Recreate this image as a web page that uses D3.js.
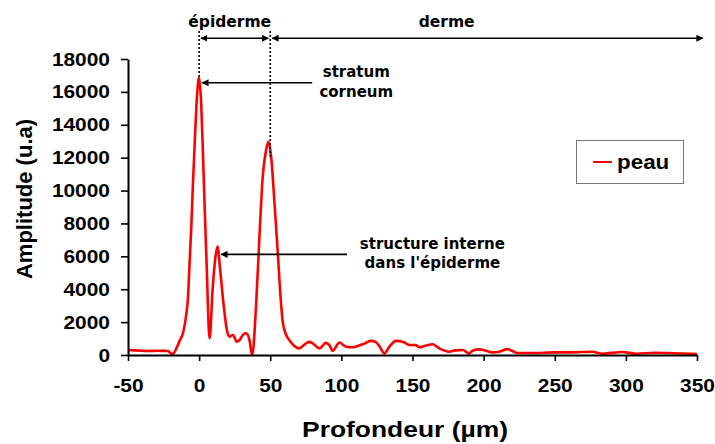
<!DOCTYPE html>
<html>
<head>
<meta charset="utf-8">
<script src="https://cdn.jsdelivr.net/npm/d3@7"></script>
<style>
  body { margin: 0; background: #fff; }
  svg { display: block; }
</style>
</head>
<body>
<svg id="chart" width="715" height="444"></svg>
<script>
// Depth profile of the skin signal (µm) and its amplitude (arbitrary units)
const depth = [
  -50, -45, -40, -35, -30, -25, -22, -20, -18.5, -16, -13.8, -11, -9, -7.9, -6.7, -5.5, -4.4, -3.2, -2, -1,
  -0.3, 0.5, 1.5, 2.7, 3.8, 5.4, 7.3, 9.6, 11.5, 12.9, 14.8, 17.1, 19.5, 21.3, 23.7, 26.5, 28.4, 31, 33.1, 35.4,
  37.3, 40.1, 42.4, 44.7, 47.1, 48.7, 50.6, 53, 55.3, 57.7, 58.8, 61.2, 63.5, 65.8, 68, 70.5, 72.8, 77.5, 79.8, 84.6,
  89.2, 91.5, 93.9, 98.6, 103.3, 108, 112, 115, 120.8, 124, 127, 130.2, 133.7, 138.4, 143.1, 147.8, 152.5, 154.8, 159, 164.1,
  168.8, 175.8, 180, 185.2, 189.9, 192.2, 196.9, 201.6, 206.3, 211, 216.8, 220.3, 223.8, 236.7, 248.4, 260.1, 276.5, 283.5, 297.6, 306.9,
  321, 335, 346.7, 350
];
const amplitude = [
  300, 280, 260, 240, 260, 250, 240, 120, 60, 400, 850, 1450, 2500, 3400, 5600, 7800, 10300, 12700, 15000, 16300,
  16850, 16500, 15200, 12200, 9230, 5170, 1000, 4150, 5980, 6600, 5170, 3140, 1520, 1110, 1220, 810, 910, 1250, 1320, 910,
  0, 3140, 7190, 10840, 12470, 12970, 12060, 9230, 6190, 3000, 2000, 1220, 900, 650, 480, 400, 550, 800, 710, 400,
  740, 600, 250, 760, 500, 470, 560, 650, 860, 800, 500, 100, 500, 860, 810, 610, 600, 470, 560, 650,
  400, 200, 280, 300, 100, 260, 340, 260, 160, 200, 360, 240, 120, 120, 160, 160, 200, 80, 180, 80,
  140, 100, 80, 60
];
const xTicks = [-50, 0, 50, 100, 150, 200, 250, 300, 350];
const yTicks = [0, 2000, 4000, 6000, 8000, 10000, 12000, 14000, 16000, 18000];
const seriesName = "peau";
const xTitle = "Profondeur (µm)";
const yTitle = "Amplitude (u.a)";

// Skin layers marked along the top of the plot (depth range, µm)
const layers = [
  { label: "épiderme", from: 0, to: 50, labelAt: 21.5 },
  { label: "derme", from: 50, to: 354, labelAt: 174 }
];
// Boundaries drawn as dotted lines down to the signal peaks
const boundaries = [0, 50];
// Callouts: arrow from the text towards a peak
const callouts = [
  { lines: ["stratum", "corneum"], tipX: 2.2, tailX: 79.5, level: 16560, textX: 110.5 },
  { lines: ["structure interne", "dans l'épiderme"], tipX: 15.5, tailX: 104, level: 6120, textX: 164 }
];

const svg = d3.select("#chart");
const W = 715, H = 444;
svg.append("rect").attr("width", W).attr("height", H).attr("fill", "#fff");

const x = d3.scaleLinear().domain([-50, 350]).range([128, 697]);
const y = d3.scaleLinear().domain([0, 18000]).range([355, 59]);

const sansBold = "'Liberation Sans', Arial, sans-serif";
const verdanaBold = "'DejaVu Sans', Verdana, sans-serif";
const plain = d => String(d);   // plain hyphen for negatives

// widen Arial-like text slightly
function stretch(sel, k) {
  sel.each(function () {
    const len = this.getComputedTextLength();
    d3.select(this).attr("textLength", len * k).attr("lengthAdjust", "spacingAndGlyphs");
  });
}

// arrow head marker
const defs = svg.append("defs");
defs.append("marker")
  .attr("id", "head")
  .attr("viewBox", "0 0 10 10")
  .attr("refX", 9).attr("refY", 5)
  .attr("markerWidth", 4.4).attr("markerHeight", 4.4)
  .attr("orient", "auto-start-reverse")
  .attr("markerUnits", "strokeWidth")
  .append("path").attr("d", "M0,0 L10,5 L0,10 z").attr("fill", "#000");

// signal curve
const pts = depth.map((d, i) => [d, amplitude[i]]);
const line = d3.line().x(d => x(d[0])).y(d => y(d[1])).curve(d3.curveMonotoneX);
svg.append("path")
  .datum(pts)
  .attr("d", line)
  .attr("fill", "none")
  .attr("stroke", "#ff0000")
  .attr("stroke-width", 2.6)
  .attr("stroke-linejoin", "round");

// Y axis
const yAxis = svg.append("g")
  .attr("transform", `translate(${x(-50)},0)`)
  .call(d3.axisLeft(y).tickValues(yTicks).tickFormat(plain).tickSize(7).tickSizeOuter(0).tickPadding(11));
yAxis.select(".domain").attr("stroke", "#000").attr("stroke-width", 2);
yAxis.selectAll(".tick line").attr("stroke", "#000").attr("stroke-width", 1.6);
yAxis.selectAll(".tick text")
  .attr("font-family", sansBold).attr("font-weight", "bold").attr("font-size", 19).attr("fill", "#000")
  .call(stretch, 1.1);

// X axis
const xAxis = svg.append("g")
  .attr("transform", `translate(0,${y(0)})`)
  .call(d3.axisBottom(x).tickValues(xTicks).tickFormat(plain).tickSize(6).tickSizeOuter(0).tickPadding(18));
xAxis.select(".domain").attr("stroke", "#000").attr("stroke-width", 2);
xAxis.selectAll(".tick line").attr("stroke", "#000").attr("stroke-width", 1.6);
xAxis.selectAll(".tick text")
  .attr("font-family", sansBold).attr("font-weight", "bold").attr("font-size", 19).attr("fill", "#000")
  .call(stretch, 1.1);

// axis titles
svg.append("text")
  .attr("x", 405).attr("y", 437)
  .attr("text-anchor", "middle")
  .attr("font-family", sansBold).attr("font-weight", "bold").attr("font-size", 22)
  .text(xTitle)
  .call(stretch, 1.2);

svg.append("text")
  .attr("transform", "translate(32,199) rotate(-90)")
  .attr("text-anchor", "middle")
  .attr("font-family", sansBold).attr("font-weight", "bold").attr("font-size", 22)
  .text(yTitle);

// boundaries (dotted) from the top band down to the curve
const ampAt = d => {
  let best = 0;
  depth.forEach((v, i) => { if (Math.abs(v - d) <= 1.2) best = Math.max(best, amplitude[i]); });
  return best;
};
svg.selectAll(".boundary")
  .data(boundaries)
  .join("line")
  .attr("x1", d => x(d)).attr("x2", d => x(d))
  .attr("y1", 31).attr("y2", d => y(ampAt(d)))
  .attr("stroke", "#000").attr("stroke-width", 1.6)
  .attr("stroke-dasharray", "2,2");

// layer arrows and labels
const bandY = 38.3;
layers.forEach((L, i) => {
  svg.append("line")
    .attr("x1", x(L.from) + 2).attr("x2", x(L.to) - (i === 0 ? 2 : 0))
    .attr("y1", bandY).attr("y2", bandY)
    .attr("stroke", "#000").attr("stroke-width", 1.6)
    .attr("marker-start", "url(#head)").attr("marker-end", "url(#head)");
  svg.append("text")
    .attr("x", x(L.labelAt)).attr("y", 27)
    .attr("text-anchor", "middle")
    .attr("font-family", verdanaBold).attr("font-weight", "bold").attr("font-size", 15.5)
    .text(L.label);
});

// callouts
callouts.forEach(c => {
  svg.append("line")
    .attr("x1", x(c.tailX)).attr("x2", x(c.tipX))
    .attr("y1", y(c.level)).attr("y2", y(c.level))
    .attr("stroke", "#000").attr("stroke-width", 1.6)
    .attr("marker-end", "url(#head)");
  const t = svg.append("text")
    .attr("text-anchor", "middle")
    .attr("font-family", verdanaBold).attr("font-weight", "bold").attr("font-size", 15);
  c.lines.forEach((s, k) => {
    t.append("tspan")
      .attr("x", x(c.textX))
      .attr("y", y(c.level) - 5.5 + k * 19.5)
      .text(s);
  });
});

// legend
const lg = svg.append("g").attr("transform", "translate(576,140)");
lg.append("rect").attr("x", 0.5).attr("y", 0.5).attr("width", 107).attr("height", 43)
  .attr("fill", "#fff").attr("stroke", "#777").attr("stroke-width", 1);
lg.append("line").attr("x1", 17).attr("x2", 36).attr("y1", 22).attr("y2", 22)
  .attr("stroke", "#ff0000").attr("stroke-width", 2);
lg.append("text").attr("x", 41).attr("y", 28.5)
  .attr("font-family", sansBold).attr("font-weight", "bold").attr("font-size", 20)
  .text(seriesName)
  .call(stretch, 1.12);
</script>
</body>
</html>
